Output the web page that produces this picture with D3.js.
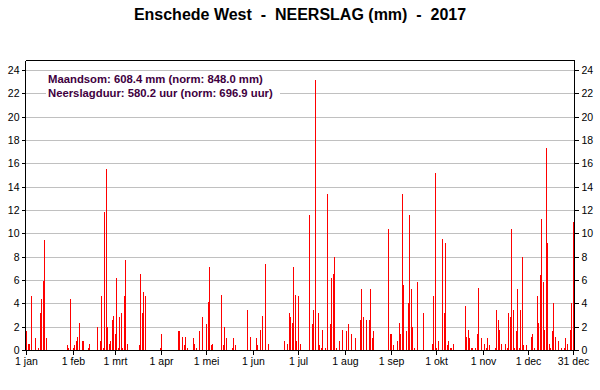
<!DOCTYPE html>
<html>
<head>
<meta charset="utf-8">
<script src="https://cdn.jsdelivr.net/npm/d3@7"></script>
<style>
  html, body { margin: 0; padding: 0; background: #fff; }
  svg { display: block; font-family: "Liberation Sans", Arial, sans-serif; }
</style>
</head>
<body>
<svg id="chart" width="600" height="390"></svg>
<script>
// Daily precipitation (mm), Enschede West, 2017 — one array per month
const jan = [1.7,0.6,0.6,4.7,0,0,1.1,0,0.2,3.2,4.4,6.0,9.5,1.1,0,0,0,0,0,0,0,0,0,0,0,0,0,0.5,0.2,4.4,0];
const feb = [0.2,0.5,0.8,1.2,2.4,0,0.8,0.8,0,0,0.2,0.6,0,0,0,0,2.0,0,0.8,4.7,0.2,11.9,15.6,2.0,0.6,0.8,2.6,3.0];
const mrt = [1.4,6.2,0.2,2.9,3.2,0.2,4.7,7.8,0.6,0,0,0,0,0,0,0,0.5,6.6,3.2,5.0,4.7,0,0,0,0,0,0,0,0,0,0.2];
const apr = [1.4,0,0,0,0,0,0,0,0,0,0,1.7,1.7,0,1.2,0.5,1.2,0.2,0,0,0,1.1,0.6,0.2,0,1.7,0,2.9,0,0];
const mei = [2.3,4.2,7.2,0.5,0.6,0,0,0,0,0,4.8,0.5,2.0,1.1,0,0,0,0.2,1.1,0.5,0,0,0,0,0,0,0,3.5,0,1.2,0];
const jun = [0,0,1.1,0.5,0,1.8,3.0,0,7.4,0,0.6,0,0,0,0,0,0,0,0,0,0,0.8,0,0.6,3.2,2.9,2.4,7.2,4.8,0.8];
const jul = [4.7,0.6,0,0,0,0,0,11.6,0,2.3,3.5,23.2,0,3.2,0.5,0.2,1.8,0,0.2,13.4,0,2.3,6.2,6.6,8.0,0.2,0,0.8,0,1.8,0];
const aug = [0,1.7,2.3,0,1.4,0,0,1.1,0,0,2.6,5.3,2.9,0,2.6,0,2.6,5.3,1.1,1.7,0,0,0,0,0,0,0,0,0,10.4,1.4];
const sep = [1.4,0.5,0,0,0.8,2.4,1.4,13.4,5.6,0,1.7,4.1,11.6,5.3,2.0,0.2,0,5.9,0,0,0,3.2,0,0,0,0,0,0.6,4.7,15.2];
const okt = [0.2,0.8,0,0,9.6,3.2,9.2,0.5,0.8,0.2,0.2,0.6,0,0,0,0,0,0,0,3.8,1.2,1.8,1.1,0.2,0.2,0,0.2,1.4,5.4,0,1.1];
const nov = [0,0.6,0.2,1.1,0.5,0,0,0,0.2,3.5,2.6,1.8,0.6,0,0,0.6,0.2,3.2,2.9,10.4,3.5,0.2,1.7,5.3,0.2,3.5,8.0,0.5,0,0.5];
const dec = [0,0,1.2,1.4,0.2,0,4.7,2.4,6.5,11.3,5.9,1.8,17.4,9.2,0.6,0.2,1.7,4.1,1.2,0,0.8,0,0.2,0,0.2,1.1,0.6,0,1.8,4.1,11.0];

// x-axis ticks (day of year, 0 = 1 jan) and labels
const tickDays   = [0, 31, 59, 90, 120, 151, 181, 212, 243, 273, 304, 334, 364];
const tickLabels = ["1 jan","1 feb","1 mrt","1 apr","1 mei","1 jun","1 jul","1 aug","1 sep","1 okt","1 nov","1 dec","31 dec"];
const yTicks = [0,2,4,6,8,10,12,14,16,18,20,22,24];

const titleText = "Enschede West  -  NEERSLAG (mm)  -  2017";
const infoLines = ["Maandsom: 608.4 mm (norm: 848.0 mm)", "Neerslagduur: 580.2 uur (norm: 696.9 uur)"];

const daily = [].concat(jan, feb, mrt, apr, mei, jun, jul, aug, sep, okt, nov, dec);
const data = daily.map((v, i) => ({ day: i, value: v })).filter(d => d.value > 0);

const svg = d3.select("#chart");
const pLeft = 25, pRight = 574, pTop = 60, pBottom = 350;

const x = d3.scaleLinear().domain([0, 364]).range([26.5, 573.5]);
const y = d3.scaleLinear().domain([0, 24]).range([pBottom + 0.5, 70.5]);

svg.append("rect").attr("width", 600).attr("height", 390).attr("fill", "#fff");

// title
svg.append("text")
  .attr("x", 300).attr("y", 20)
  .attr("text-anchor", "middle")
  .style("white-space", "pre")
  .attr("font-size", 16).attr("font-weight", "bold")
  .attr("fill", "#000")
  .text(titleText);

// gridlines
svg.append("g").selectAll("line")
  .data(yTicks.filter(v => v > 0))
  .join("line")
  .attr("x1", pLeft + 1).attr("x2", pRight)
  .attr("y1", d => Math.round(y(d) - 0.5) + 0.5)
  .attr("y2", d => Math.round(y(d) - 0.5) + 0.5)
  .attr("stroke", "#c0c0c0").attr("stroke-width", 1);

// info box (white background hides gridlines)
svg.append("rect")
  .attr("x", 46).attr("y", 72).attr("width", 234).attr("height", 28)
  .attr("fill", "#fff");
svg.append("g").selectAll("text")
  .data(infoLines)
  .join("text")
  .attr("x", 48)
  .attr("y", (d, i) => 83 + i * 14)
  .attr("font-size", 11.3).attr("font-weight", "bold")
  .attr("fill", "#400040")
  .text(d => d);

// bars
svg.append("g").attr("shape-rendering", "crispEdges").selectAll("rect")
  .data(data)
  .join("rect")
  .attr("x", d => Math.floor(x(d.day)))
  .attr("width", 1)
  .attr("y", d => y(d.value))
  .attr("height", d => y(0) - y(d.value))
  .attr("fill", "#ff0000");

// frame
const frame = svg.append("g").attr("stroke", "#000").attr("stroke-width", 1).attr("shape-rendering", "crispEdges");
frame.append("line").attr("x1", pLeft + 0.5).attr("x2", pRight + 0.5).attr("y1", pTop + 0.5).attr("y2", pTop + 0.5);
frame.append("line").attr("x1", pLeft + 0.5).attr("x2", pLeft + 0.5).attr("y1", pTop + 0.5).attr("y2", pBottom + 0.5);
frame.append("line").attr("x1", pRight + 0.5).attr("x2", pRight + 0.5).attr("y1", pTop + 0.5).attr("y2", pBottom + 0.5);
frame.append("line").attr("x1", pLeft + 0.5).attr("x2", pRight + 0.5).attr("y1", pBottom + 0.5).attr("y2", pBottom + 0.5);

function styleAxis(g) {
  g.select(".domain").remove();
  g.selectAll(".tick line").attr("stroke", "#000").attr("shape-rendering", "crispEdges");
  g.selectAll(".tick text").attr("font-size", 10.5).attr("fill", "#000")
    .attr("font-family", "'Liberation Sans', Arial, sans-serif");
}

// x axis
const xAxis = d3.axisBottom(x)
  .tickValues(tickDays)
  .tickFormat((d, i) => tickLabels[i])
  .tickSize(4).tickPadding(3);
svg.append("g")
  .attr("transform", `translate(0,${pBottom + 0.5})`)
  .call(xAxis)
  .call(styleAxis)
  .call(g => g.selectAll(".tick").attr("transform", d => `translate(${Math.floor(x(d)) + 0.5},0)`));

// left y axis
const yLeft = d3.axisLeft(y).tickValues(yTicks).tickFormat(d3.format("d")).tickSize(4).tickPadding(2);
svg.append("g")
  .attr("transform", `translate(${pLeft + 0.5},0)`)
  .call(yLeft)
  .call(styleAxis)
  .call(g => g.selectAll(".tick").attr("transform", d => `translate(0,${Math.round(y(d) - 0.5) + 0.5})`));

// right y axis
const yRight = d3.axisRight(y).tickValues(yTicks).tickFormat(d3.format("d")).tickSize(4).tickPadding(3);
svg.append("g")
  .attr("transform", `translate(${pRight + 0.5},0)`)
  .call(yRight)
  .call(styleAxis)
  .call(g => g.selectAll(".tick").attr("transform", d => `translate(0,${Math.round(y(d) - 0.5) + 0.5})`));
</script>
</body>
</html>
